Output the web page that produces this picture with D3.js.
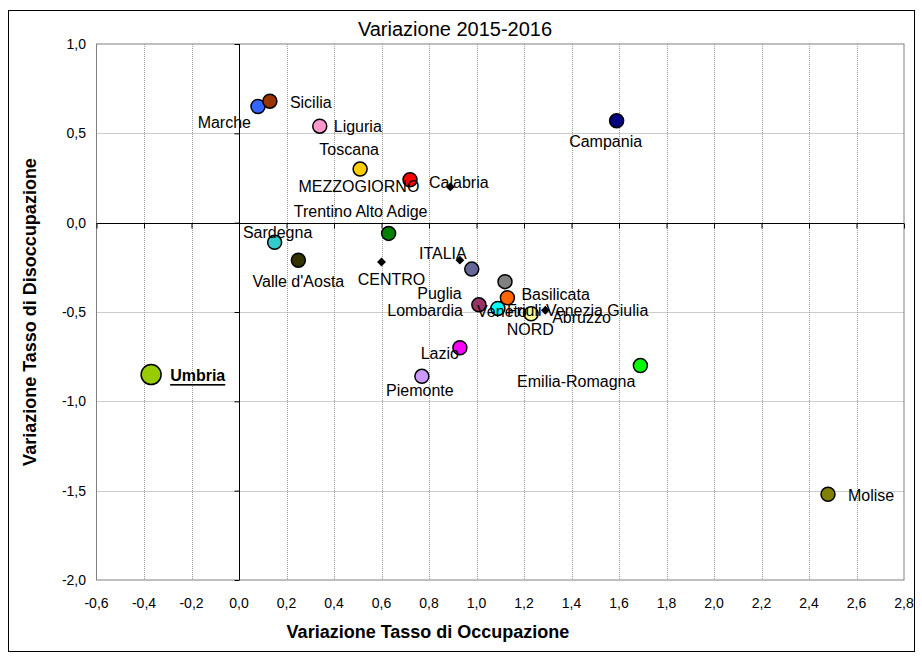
<!DOCTYPE html>
<html lang="it">
<head>
<meta charset="UTF-8">
<title>Variazione 2015-2016</title>
<script src="https://cdn.jsdelivr.net/npm/d3@7"></script>
<style>
  body { margin: 0; background: #fff; }
  svg text { font-family: "Liberation Sans", Arial, sans-serif; fill: #000; }
  .grid line { stroke: #9a9a9a; stroke-dasharray: 1,1; }
  .lbl { font-size: 16px; dominant-baseline: central; }
  .tick-lbl { font-size: 14px; }
  .ax-title { font-size: 18px; font-weight: bold; }
</style>
</head>
<body>
<div id="chart"></div>
<script>
// dati: variazione 2015-2016 (punti percentuali)
var names = ["Piemonte", "Valle d'Aosta", "Lombardia", "Trentino Alto Adige", "Veneto",
  "Friuli Venezia Giulia", "Liguria", "Emilia-Romagna", "Toscana", "Umbria", "Marche", "Lazio",
  "Abruzzo", "Molise", "Campania", "Puglia", "Basilicata", "Calabria", "Sicilia", "Sardegna",
  "NORD", "CENTRO", "MEZZOGIORNO", "ITALIA"];
var occupazione = [0.77, 0.25, 1.01, 0.63, 1.12, 1.09, 0.34, 1.69, 0.51, -0.37, 0.08, 0.93,
  1.23, 2.48, 1.59, 0.98, 1.13, 0.72, 0.13, 0.15, 1.29, 0.60, 0.89, 0.93];
var disoccupazione = [-0.86, -0.21, -0.46, -0.06, -0.33, -0.48, 0.54, -0.80, 0.30, -0.85, 0.65, -0.70,
  -0.51, -1.52, 0.57, -0.26, -0.42, 0.24, 0.68, -0.11, -0.49, -0.22, 0.20, -0.21];
var aggregati = ["NORD", "CENTRO", "MEZZOGIORNO", "ITALIA"];
var xTicks = [-0.6, -0.4, -0.2, 0, 0.2, 0.4, 0.6, 0.8, 1.0, 1.2, 1.4, 1.6, 1.8, 2.0, 2.2, 2.4, 2.6, 2.8];
var yTicks = [1.0, 0.5, 0, -0.5, -1.0, -1.5, -2.0];

// colori dei marcatori
var colori = {
  "Piemonte": "#cc99ff", "Valle d'Aosta": "#333300", "Lombardia": "#993366",
  "Trentino Alto Adige": "#008000", "Veneto": "#808080", "Friuli Venezia Giulia": "#00ffff",
  "Liguria": "#ff99cc", "Emilia-Romagna": "#00ff00", "Toscana": "#ffcc00", "Umbria": "#99cc00",
  "Marche": "#3366ff", "Lazio": "#ff00ff", "Abruzzo": "#ffff99", "Molise": "#808000",
  "Campania": "#000080", "Puglia": "#666699", "Basilicata": "#ff6600", "Calabria": "#ff0000",
  "Sicilia": "#993300", "Sardegna": "#33cccc"
};

// posizione delle etichette rispetto al punto: [dx, dy, ancoraggio]
var etichette = {
  "Piemonte": [-2, 14, "middle"], "Valle d'Aosta": [0, 21, "middle"], "Lombardia": [-16, 6, "end"],
  "Trentino Alto Adige": [-28, -22, "middle"], "Veneto": [-3, 30, "middle"],
  "Friuli Venezia Giulia": [9, 2, "start"], "Liguria": [14, 0, "start"],
  "Emilia-Romagna": [-5, 16, "end"], "Toscana": [-11, -20, "middle"], "Umbria": [19, 1, "start"],
  "Marche": [-7, 16, "end"], "Lazio": [-1, 6, "end"], "Abruzzo": [21, 4, "start"],
  "Molise": [20, 1, "start"], "Campania": [-11, 21, "middle"], "Puglia": [-10, 24, "end"],
  "Basilicata": [14, -3, "start"], "Calabria": [19, 3, "start"], "Sicilia": [20, 1, "start"],
  "Sardegna": [3, -10, "middle"], "NORD": [-15, 19, "middle"], "CENTRO": [10, 18, "middle"],
  "MEZZOGIORNO": [-31, 0, "end"], "ITALIA": [-17, -7, "middle"]
};

var data = names.map(function(n, i) {
  return {name: n, x: occupazione[i], y: disoccupazione[i], agg: aggregati.indexOf(n) >= 0};
});

var width = 922, height = 659;
var plot = {left: 96.5, right: 904, top: 44, bottom: 580};

var x = d3.scaleLinear().domain([-0.6, 2.8]).range([plot.left, plot.right]);
var y = d3.scaleLinear().domain([-2, 1]).range([plot.bottom, plot.top]);
var fmt = function(d) { return d3.format(".1f")(d).replace(".", ",").replace("−", "-"); };

var svg = d3.select("#chart").append("svg")
  .attr("width", width)
  .attr("height", height);

svg.append("rect")
  .attr("x", 8.5).attr("y", 10.5)
  .attr("width", 906).attr("height", 641)
  .attr("fill", "#fff").attr("stroke", "#000");

svg.append("text")
  .attr("x", 455).attr("y", 36)
  .attr("text-anchor", "middle")
  .style("font-size", "20px")
  .text("Variazione 2015-2016");

// griglia
var grid = svg.append("g").attr("class", "grid");
grid.selectAll(".gx").data(xTicks.slice(1, -1)).enter().append("line")
  .attr("x1", function(d) { return Math.round(x(d)) + 0.5; })
  .attr("x2", function(d) { return Math.round(x(d)) + 0.5; })
  .attr("y1", plot.top).attr("y2", plot.bottom);
grid.selectAll(".gy").data(yTicks.slice(1, -1)).enter().append("line")
  .attr("y1", function(d) { return Math.round(y(d)) + 0.5; })
  .attr("y2", function(d) { return Math.round(y(d)) + 0.5; })
  .attr("x1", plot.left).attr("x2", plot.right);

svg.append("rect")
  .attr("x", plot.left).attr("y", plot.top)
  .attr("width", plot.right - plot.left).attr("height", plot.bottom - plot.top)
  .attr("fill", "none").attr("stroke", "#808080");

// assi per lo zero
var x0 = Math.round(x(0)) + 0.5, y0 = Math.round(y(0)) + 0.5;
svg.append("g")
  .attr("transform", "translate(" + x0 + ",0)")
  .call(d3.axisLeft(y).tickValues(yTicks).tickSize(5).tickFormat(""))
  .call(function(g) { g.select(".domain").attr("d", "M0," + plot.top + "V" + plot.bottom); });
svg.append("g")
  .attr("transform", "translate(0," + y0 + ")")
  .call(d3.axisBottom(x).tickValues(xTicks).tickSize(5).tickFormat(""))
  .call(function(g) { g.select(".domain").attr("d", "M" + plot.left + ",0H" + plot.right); });

// etichette dei tick
svg.selectAll(".xl").data(xTicks).enter().append("text")
  .attr("class", "tick-lbl")
  .attr("x", function(d) { return x(d); })
  .attr("y", 608)
  .attr("text-anchor", "middle")
  .text(fmt);
svg.selectAll(".yl").data(yTicks).enter().append("text")
  .attr("class", "tick-lbl")
  .attr("x", 86)
  .attr("y", function(d) { return y(d) + 5; })
  .attr("text-anchor", "end")
  .text(fmt);

svg.append("text")
  .attr("class", "ax-title")
  .attr("x", 428).attr("y", 638)
  .attr("text-anchor", "middle")
  .text("Variazione Tasso di Occupazione");
svg.append("text")
  .attr("class", "ax-title")
  .attr("transform", "translate(36," + (plot.top + plot.bottom) / 2 + ") rotate(-90)")
  .attr("text-anchor", "middle")
  .text("Variazione Tasso di Disoccupazione");

// punti
var pts = svg.append("g");
data.forEach(function(d) {
  if (d.agg) {
    pts.append("path")
      .attr("d", d3.symbol().type(d3.symbolDiamond2).size(50)())
      .attr("transform", "translate(" + x(d.x) + "," + y(d.y) + ")")
      .attr("fill", "#000");
  } else {
    pts.append("circle")
      .attr("cx", x(d.x)).attr("cy", y(d.y))
      .attr("r", d.name === "Umbria" ? 10 : 7)
      .attr("fill", colori[d.name])
      .attr("stroke", "#000").attr("stroke-width", 1.5);
  }
});

// etichette dei punti
data.forEach(function(d) {
  var e = etichette[d.name];
  var t = svg.append("text")
    .attr("class", "lbl")
    .attr("x", x(d.x) + e[0])
    .attr("y", y(d.y) + e[1])
    .attr("text-anchor", e[2])
    .text(d.name);
  if (d.name === "Umbria") {
    t.style("font-weight", "bold").style("text-decoration", "underline");
  }
});
</script>
</body>
</html>
